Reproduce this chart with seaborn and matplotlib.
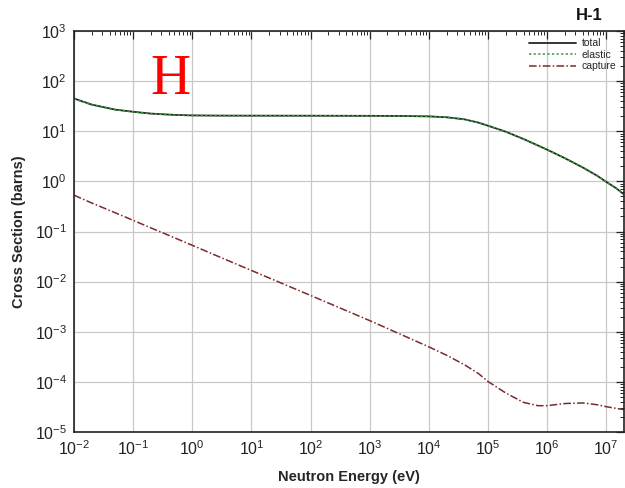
import matplotlib
matplotlib.use("Agg")
import matplotlib.pyplot as plt
import seaborn as sns
import pandas as pd
from matplotlib.ticker import LogLocator, NullFormatter

# Energy grid (eV) and cross sections (barns)
energy = [1e-2, 2e-2, 5e-2, 1e-1, 2e-1, 5e-1, 1e0, 3e0, 1e1, 1e2, 1e3, 3e3,
          1e4, 2e4, 4e4, 7e4, 1e5, 2e5, 4e5, 7e5, 1e6, 2e6, 4e6, 7e6, 1e7, 1.5e7, 2e7]
total = [45.0, 34.0, 27.0, 24.5, 22.5, 21.2, 20.7, 20.5, 20.45, 20.4, 20.3, 20.2,
         19.8, 19.0, 17.3, 14.8, 12.9, 9.8, 7.0, 5.2, 4.3, 2.9, 1.9, 1.3, 0.98, 0.72, 0.55]
elastic = [44.5, 33.7, 26.8, 24.3, 22.4, 21.1, 20.65, 20.48, 20.44, 20.4, 20.3, 20.2,
           19.8, 19.0, 17.3, 14.8, 12.9, 9.8, 7.0, 5.2, 4.3, 2.9, 1.9, 1.3, 0.98, 0.72, 0.55]
capture = [0.53, 0.37, 0.236, 0.167, 0.118, 0.075, 0.053, 0.0305, 0.0167, 0.0053,
           0.00167, 0.00094, 0.00050, 0.00034, 0.00022, 0.000145, 0.000102, 6.0e-5,
           3.9e-5, 3.35e-5, 3.35e-5, 3.7e-5, 3.8e-5, 3.5e-5, 3.2e-5, 2.95e-5, 2.8e-5]

series_names = ["total", "elastic", "capture"]
colors = {"total": "#1f2a1f", "elastic": "#3a9a3a", "capture": "#7a2a2a"}
styles = {"total": "-", "elastic": (0, (1.5, 1.5)), "capture": (0, (5, 1.5, 1, 1.5))}

frames = []
for name, vals in zip(series_names, [total, elastic, capture]):
    frames.append(pd.DataFrame({"energy": energy, "xs": vals, "reaction": name}))
df = pd.concat(frames, ignore_index=True)

sns.set_style("white")
plt.rcParams["font.family"] = ["Liberation Sans", "DejaVu Sans"]
plt.rcParams["axes.unicode_minus"] = False

fig = plt.figure(figsize=(6.25, 4.88), dpi=100)
ax = fig.add_axes([74 / 625, 1 - 432 / 488, (624 - 74) / 625, (432 - 31) / 488])

for name in series_names:
    sub = df[df["reaction"] == name]
    sns.lineplot(data=sub, x="energy", y="xs", ax=ax, color=colors[name],
                 linestyle=styles[name], linewidth=1.3 if name == "total" else 1.1,
                 label=name, estimator=None, sort=False)

ax.set_xscale("log")
ax.set_yscale("log")
ax.set_xlim(1e-2, 2e7)
ax.set_ylim(1e-5, 1e3)

ax.xaxis.set_major_locator(LogLocator(base=10, numticks=20))
ax.yaxis.set_major_locator(LogLocator(base=10, numticks=20))
ax.xaxis.set_minor_locator(LogLocator(base=10, subs=range(2, 10), numticks=100))
ax.yaxis.set_minor_locator(LogLocator(base=10, subs=range(2, 10), numticks=100))
ax.xaxis.set_minor_formatter(NullFormatter())
ax.yaxis.set_minor_formatter(NullFormatter())

ax.grid(True, which="major", color="#c8c8c8", linewidth=0.9)
ax.tick_params(which="both", direction="in", top=True, right=True, colors="#222222",
               labelcolor="#222222")
ax.tick_params(which="major", length=6, width=0.9, labelsize=11.5, pad=5)
ax.tick_params(which="minor", length=3, width=0.7)
for sp in ax.spines.values():
    sp.set_color("#222222")
    sp.set_linewidth(1.2)

ax.set_xlabel("Neutron Energy (eV)", fontsize=10.5, fontweight="bold", labelpad=9)
ax.set_ylabel("Cross Section (barns)", fontsize=10.5, fontweight="bold", labelpad=6)

leg = ax.legend(loc="upper right", frameon=False, fontsize=7.5, handlelength=4.5,
                borderaxespad=0.3, labelspacing=0.15, handletextpad=0.6)

fig.text(603 / 625, 1 - 15 / 488, "H-1", ha="right", va="center", fontsize=12,
         fontweight="bold", color="#111111")
fig.text(170 / 625, 1 - 80 / 488, "H", ha="center", va="center", fontsize=40,
         color="#ff0000", family=["Liberation Serif", "DejaVu Serif"])

fig.savefig("out.png", dpi=100)
